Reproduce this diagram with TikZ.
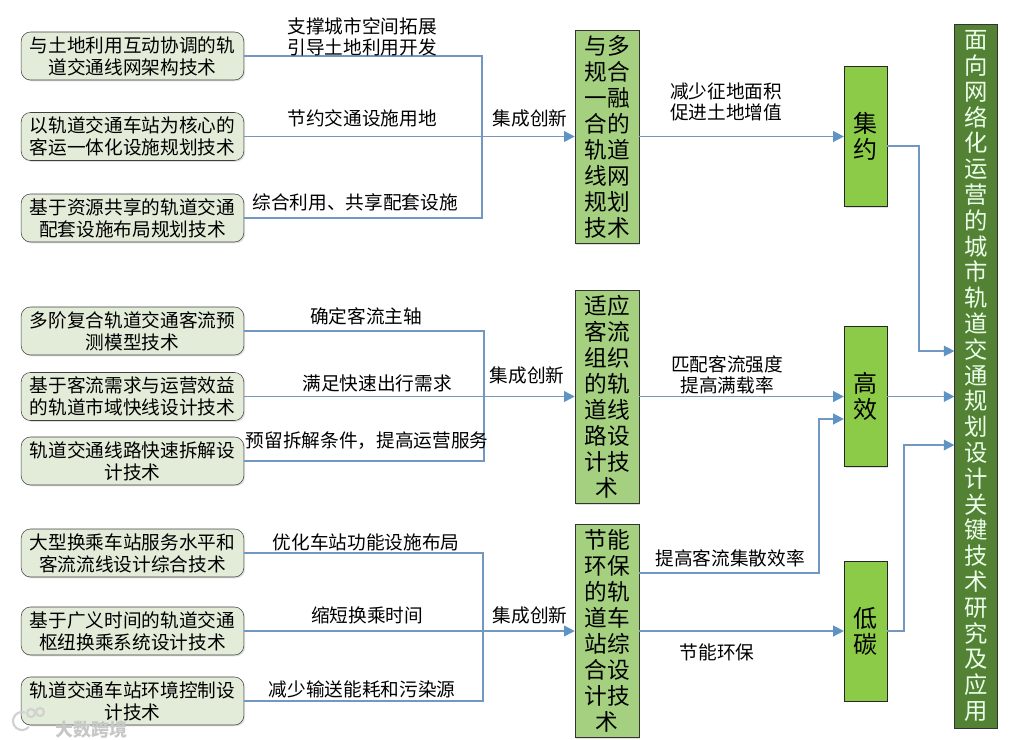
\documentclass[tikz,border=0pt]{standalone}
\usepackage{fontspec}
\setmainfont{Noto Sans CJK SC}
\usepackage{xcolor}
\usetikzlibrary{shadows, arrows.meta, positioning}
\definecolor{linkblue}{HTML}{7298C2}
\definecolor{tipblue}{HTML}{5F93C4}
\definecolor{techfill}{HTML}{E3ECD9}
\definecolor{methodfill}{HTML}{A5D080}
\definecolor{goalfill}{HTML}{8CCB48}
\definecolor{titlefill}{HTML}{548235}
\begin{document}
\begin{tikzpicture}[
                x=0.75pt,
                y=-0.75pt,
                tech/.style={
                    draw=black!75,
                    fill=techfill,
                    rounded corners=7pt,
                    minimum width=167pt,
                    minimum height=36pt,
                    inner sep=0pt,
                    align=center,
                    font=\fontsize{14pt}{16.5pt}\selectfont,
                    drop shadow={shadow xshift=1pt,shadow yshift=-1pt,opacity=.25}
                },
                method/.style={
                    draw=black!80,
                    fill=methodfill,
                    minimum width=48pt,
                    minimum height=160pt,
                    inner sep=0pt,
                    align=center,
                    font=\fontsize{17pt}{19.5pt}\selectfont,
                    drop shadow={shadow xshift=1pt,shadow yshift=-1pt,opacity=.25}
                },
                goal/.style={
                    draw=black!85,
                    fill=goalfill,
                    minimum width=32pt,
                    minimum height=105pt,
                    inner sep=0pt,
                    align=center,
                    font=\fontsize{18pt}{19.5pt}\selectfont,
                    drop shadow={shadow xshift=1pt,shadow yshift=-1pt,opacity=.25}
                },
                title/.style={
                    draw=black!80,
                    fill=titlefill,
                    text=white!92!green,
                    minimum width=32pt,
                    minimum height=528pt,
                    inner sep=0pt,
                    align=center,
                    font=\fontsize{17.5pt}{19.35pt}\selectfont
                },
                lbl/.style={
                    align=center,
                    inner sep=0pt,
                    font=\fontsize{14pt}{15.8pt}\selectfont
                },
                lnk/.style={
                    draw=linkblue,
                    line width=1.1pt
                },
                arr/.style={
                    lnk,
                    -{Triangle[length=8pt,width=8pt,color=tipblue]}
                },
                wmark/.style={
                    text=black!22,
                    inner sep=0pt,
                    font=\fontsize{13.5pt}{13.5pt}\bfseries\selectfont
                },
                wlogo/.style={
                    draw=black!18,
                    line width=1.6pt
                }
            ]

                \useasboundingbox (0,0) rectangle (1012,739);

                \node[tech] (a1) at (132.5,56) {与土地利用互动协调的轨\\道交通线网架构技术};
                \node[tech] (a2) at (132.5,136.5) {以轨道交通车站为核心的\\客运一体化设施规划技术};
                \node[tech] (a3) at (132.5,218) {基于资源共享的轨道交通\\配套设施布局规划技术};
                \node[tech] (a4) at (132.5,331) {多阶复合轨道交通客流预\\测模型技术};
                \node[tech] (a5) at (132.5,396.5) {基于客流需求与运营效益\\的轨道市域快线设计技术};
                \node[tech] (a6) at (132.5,461) {轨道交通线路快速拆解设\\计技术};
                \node[tech] (a7) at (132.5,553) {大型换乘车站服务水平和\\客流流线设计综合技术};
                \node[tech] (a8) at (132.5,631) {基于广义时间的轨道交通\\枢纽换乘系统设计技术};
                \node[tech] (a9) at (132.5,701) {轨道交通车站环境控制设\\计技术};

                \node[method] (b1) at (607,136.5) {与多\\规合\\一融\\合的\\轨道\\线网\\规划\\技术};
                \node[method] (b2) at (607,396.5) {适应\\客流\\组织\\的轨\\道线\\路设\\计技\\术};
                \node[method] (b3) at (607,631) {节能\\环保\\的轨\\道车\\站综\\合设\\计技\\术};

                \node[goal] (c1) at (865.5,136.5) {集\\约};
                \node[goal] (c2) at (865.5,396.5) {高\\效};
                \node[goal] (c3) at (865.5,631) {低\\碳};

                \node[title] (d) at (976,376) {面\\向\\网\\络\\化\\运\\营\\的\\城\\市\\轨\\道\\交\\通\\规\\划\\设\\计\\关\\键\\技\\术\\研\\究\\及\\应\\用};

                \coordinate (j1) at (482,136.5);
                \coordinate (j2) at (484,396.5);
                \coordinate (j3) at (483,631);
                \coordinate (k1) at (919,351);
                \coordinate (k3) at (904,445);
                \coordinate (k2) at (819,419);

                \draw[lnk] (a1.east) -| (j1);
                \draw[lnk] (a3.east) -| (j1);
                \draw[lnk] (a4.east) -| (j2);
                \draw[lnk] (a6.east) -| (j2);
                \draw[lnk] (a7.east) -| (j3);
                \draw[lnk] (a9.east) -| (j3);
                \draw[arr] (a2.east) -- (b1.west);
                \draw[arr] (a5.east) -- (b2.west);
                \draw[arr] (a8.east) -- (b3.west);

                \draw[arr] (b1.east) -- (c1.west);
                \draw[arr] (b2.east) -- (c2.west);
                \draw[arr] (b3.east) -- (c3.west);
                \draw[arr] (b3.east |- 0,573) -| (k2) -- (k2 -| c2.west);

                \draw[arr] (c1.east |- 0,146) -| (k1) -- (k1 -| d.west);
                \draw[arr] (c2.east) -- (c2.east -| d.west);
                \draw[arr] (c3.east) -| (k3) -- (k3 -| d.west);

                \node[lbl] (t1) at (362,36.5) {支撑城市空间拓展\\引导土地利用开发};
                \node[lbl] (t2) at (362,118) {节约交通设施用地};
                \node[lbl] (t3) at (355,202) {综合利用、共享配套设施};
                \node[lbl] (t4) at (366,316) {确定客流主轴};
                \node[lbl] (t5) at (377,383) {满足快速出行需求};
                \node[lbl] (t6) at (367,441) {预留拆解条件\symbol{"FF0C}提高运营服务};
                \node[lbl] (t7) at (366,542) {优化车站功能设施布局};
                \node[lbl] (t8) at (367,615) {缩短换乘时间};
                \node[lbl] (t9) at (362,689) {减少输送能耗和污染源};

                \node[lbl] (s1) at (530,118) {集成创新};
                \node[lbl] (s2) at (527,375) {集成创新};
                \node[lbl] (s3) at (530,615) {集成创新};

                \node[lbl] (r1) at (726,102) {减少征地面积\\促进土地增值};
                \node[lbl] (r2) at (727,375) {匹配客流强度\\提高满载率};
                \node[lbl] (r3) at (730,558) {提高客流集散效率};
                \node[lbl] (r4) at (717,652) {节能环保};

                \draw[wlogo] (28.9,726.8) arc (40:290:9);
                \draw[wlogo] (31,713) circle (4);
                \draw[wlogo] (40,712) circle (4);
                \node[wmark] (w) at (91,730) {大数跨境};

            \end{tikzpicture}
\end{document}
